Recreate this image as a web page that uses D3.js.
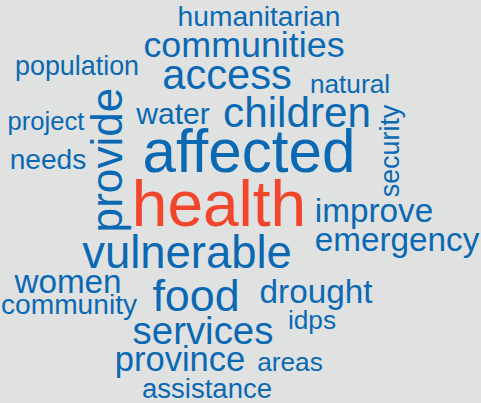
<!DOCTYPE html>
<html>
<head>
<meta charset="utf-8">
<script src="https://cdn.jsdelivr.net/npm/d3@7"></script>
<style>
  body { margin: 0; background: #e0e1e1; }
  svg { display: block; }
</style>
</head>
<body>
<div id="chart"></div>
<script>
// word frequencies
var words = ["health", "affected", "vulnerable", "food", "provide", "children", "access",
  "services", "communities", "province", "improve", "emergency", "drought", "women",
  "water", "humanitarian", "community", "needs", "assistance", "population", "security",
  "natural", "areas", "idps", "project"];
var counts = [100, 94, 71, 70, 69, 66, 65, 60, 56, 54, 52, 52, 52, 52,
  47, 44, 44, 44, 43, 42, 42, 41, 41, 41, 40];

// placement of each word in the cloud (centre x, baseline y, rotation)
var layout = {
  health:       [219, 226, 0],
  affected:     [249, 172, 0],
  vulnerable:   [187, 268, 0],
  food:         [196, 311, 0],
  provide:      [122, 160, -90],
  children:     [297, 127, 0],
  access:       [227, 89, 0],
  services:     [203, 344, 0],
  communities:  [244, 57, 0],
  province:     [180, 371, 0],
  improve:      [374, 222, 0],
  emergency:    [397, 251, 0],
  drought:      [316, 303, 0],
  women:        [68, 293, 0],
  water:        [173, 124, 0],
  humanitarian: [259, 26, 0],
  community:    [69, 314, 0],
  needs:        [48, 169, 0],
  assistance:   [207, 398, 0],
  population:   [77, 75, 0],
  security:     [399, 151, -90],
  natural:      [350, 93, 0],
  areas:        [290, 371, 0],
  idps:         [312, 329, 0],
  project:      [46, 130, 0]
};

var width = 481, height = 403;

var size = d3.scaleLinear()
    .domain([0, 100])
    .range([0, 64]);

var data = words.map(function(w, i) { return {text: w, count: counts[i]}; });

var svg = d3.select("#chart").append("svg")
    .attr("width", width)
    .attr("height", height);

svg.append("rect")
    .attr("width", width)
    .attr("height", height)
    .attr("fill", "#e0e1e1");

svg.selectAll("text")
    .data(data)
    .enter().append("text")
    .attr("text-anchor", "middle")
    .attr("transform", function(d) {
        var p = layout[d.text];
        return "translate(" + p[0] + "," + p[1] + ") rotate(" + p[2] + ")";
    })
    .style("font-family", "'Liberation Sans', Arial, sans-serif")
    .style("font-size", function(d) { return size(d.count) + "px"; })
    .attr("fill", function(d, i) { return i === 0 ? "#f0462b" : "#0b69b4"; })
    .text(function(d) { return d.text; });
</script>
</body>
</html>
